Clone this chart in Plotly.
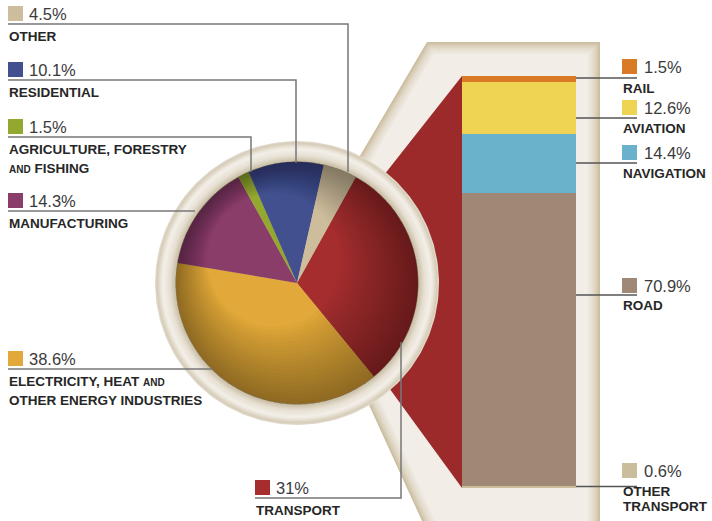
import numpy as np
import plotly.graph_objects as go

W, H = 712, 521
OFF = 0  # page body margin is removed by the post script below

# ---------------- data ----------------
sector_names = ["TRANSPORT", "ELECTRICITY, HEAT AND OTHER ENERGY INDUSTRIES", "MANUFACTURING",
                "AGRICULTURE, FORESTRY AND FISHING", "RESIDENTIAL", "OTHER"]
sector_values = [31.0, 38.6, 14.3, 1.5, 10.1, 4.5]
sector_colors = ["#a62d2e", "#e2a93a", "#8a3d69", "#93a82e", "#42508f", "#cdbd9c"]
SMALL = "<span style='font-size:10px'>AND</span>"
sector_label_lines = [["TRANSPORT"],
                      ["ELECTRICITY, HEAT " + SMALL, "OTHER ENERGY INDUSTRIES"],
                      ["MANUFACTURING"],
                      ["AGRICULTURE, FORESTRY", SMALL + " FISHING"],
                      ["RESIDENTIAL"],
                      ["OTHER"]]

transport_names = ["RAIL", "AVIATION", "NAVIGATION", "ROAD", "OTHER TRANSPORT"]
transport_values = [1.5, 12.6, 14.4, 70.9, 0.6]
transport_colors = ["#d97a26", "#efd453", "#6ab2cb", "#a08877", "#cbbc9b"]
transport_label_lines = [["RAIL"], ["AVIATION"], ["NAVIGATION"], ["ROAD"], ["OTHER", "TRANSPORT"]]

# ---------------- layout constants ----------------
PIE_CX, PIE_CY, PIE_R = 297, 283, 121
RING_R = 142
PIE_ROTATION = 29
BAR_X0, BAR_X1, BAR_TOP, BAR_BOTTOM = 462, 576, 76, 488
SQ = 15
FW, FH = W - OFF, H - OFF

sector_label_layout = [
    dict(sx=255, sy=480, ly=498, path=[(255, 498), (401, 498), (401, 342)]),
    dict(sx=8, sy=351, ly=369, path=[(8, 369), (212, 369)]),
    dict(sx=8, sy=193, ly=211, path=[(8, 211), (195, 211)]),
    dict(sx=8, sy=119, ly=137, path=[(8, 137), (251, 137), (251, 172)]),
    dict(sx=8, sy=62, ly=80, path=[(8, 80), (296, 80), (296, 163)]),
    dict(sx=8, sy=6, ly=24, path=[(8, 24), (348, 24), (348, 172)]),
]
transport_label_layout = [
    dict(sx=622, sy=59, ly=78),
    dict(sx=622, sy=100, ly=118),
    dict(sx=622, sy=145, ly=163),
    dict(sx=622, sy=278, ly=295),
    dict(sx=622, sy=463, ly=481),
]

PCT_FONT = dict(family="Liberation Sans, Arial, sans-serif", size=16.5, color="#3a3a3a")
NAME_FONT = dict(family="Liberation Sans, Arial, sans-serif", size=13.5, color="#262626")


def circle_xy(cx, cy, r, n=200, reverse=False):
    t = np.linspace(0, 2 * np.pi, n, endpoint=False)
    if reverse:
        t = t[::-1]
    return cx + r * np.cos(t), cy + r * np.sin(t)


def path_of(xs, ys, close=True):
    s = "M" + "L".join(f"{x:.2f},{y:.2f}" for x, y in zip(xs, ys))
    return s + ("Z" if close else "")


def inset_polygon(pts, d):
    pts = np.array(pts, float)
    n = len(pts)
    c = pts.mean(axis=0)
    lines = []
    for i in range(n):
        p, q = pts[i], pts[(i + 1) % n]
        e = q - p
        nrm = np.array([-e[1], e[0]]) / np.linalg.norm(e)
        if np.dot(c - p, nrm) < 0:
            nrm = -nrm
        lines.append((p + nrm * d, e))
    out = []
    for i in range(n):
        p1, e1 = lines[i - 1]
        p2, e2 = lines[i]
        A = np.array([e1, -e2]).T
        s, _ = np.linalg.solve(A, p2 - p1)
        out.append(p1 + s * e1)
    return np.array(out)


def mix(c1, c2, t):
    a = [int(c1[i:i + 2], 16) for i in (1, 3, 5)]
    b = [int(c2[i:i + 2], 16) for i in (1, 3, 5)]
    return "#" + "".join(f"{round(a[k] + (b[k] - a[k]) * t):02x}" for k in range(3))


fig = go.Figure()
shapes = []

# ---- beige bracket frame around the bar (below traces) ----
def line_x_at_y(p, q, y):
    return p[0] + (q[0] - p[0]) * (y - p[1]) / (q[1] - p[1])

frame_pts = [(301, 256), (427, 42), (600, 42), (600, 560),
             (line_x_at_y((301, 256), (422, 521), 560), 560)]
frame_steps = [0, 1.5, 3, 4.5, 6, 8, 10, 12]
for i, d in enumerate(frame_steps):
    poly = inset_polygon(frame_pts, d)
    col = mix("#cbbd9f", "#f2eee7", (i / (len(frame_steps) - 1)) ** 0.8)
    shapes.append(dict(type="path", path=path_of(poly[:, 0], poly[:, 1]), xref="x", yref="y",
                       fillcolor=col, line=dict(width=0), layer="below"))

# ---- red connector from transport slice to the bar ----
shapes.append(dict(type="path",
                   path=path_of([BAR_X0, BAR_X0, 306], [BAR_TOP, BAR_BOTTOM, 274]),
                   xref="x", yref="y", fillcolor="#9c2a2b", line=dict(width=0), layer="below"))

# ---- ring around the pie ----
rx, ry = circle_xy(PIE_CX, PIE_CY, RING_R, 240)
k0 = PIE_R / RING_R
fig.add_trace(go.Scatter(
    x=np.append(rx, rx[0]), y=np.append(ry, ry[0]), mode="lines", fill="toself",
    line=dict(width=0), hoverinfo="skip", showlegend=False,
    fillgradient=dict(type="radial", colorscale=[
        [0.0, "#c2b597"], [k0 - 0.01, "#c2b597"], [k0 + 0.01, "#cdc2aa"], [k0 + 0.045, "#e6dfd2"],
        [k0 + 0.09, "#f3efe8"], [0.955, "#ede8dd"], [0.985, "#d6ccb8"], [1.0, "#e4ded2"]])))

# ---- pie ----
fig.add_trace(go.Pie(
    values=sector_values, labels=sector_names, sort=False, direction="clockwise",
    rotation=PIE_ROTATION, textinfo="none", hoverinfo="label+percent", showlegend=False,
    marker=dict(colors=sector_colors, line=dict(width=0)),
    domain=dict(x=[(PIE_CX - PIE_R - OFF) / FW, (PIE_CX + PIE_R - OFF) / FW],
                y=[1 - (PIE_CY + PIE_R - OFF) / FH, 1 - (PIE_CY - PIE_R - OFF) / FH])))

# ---- soft shading over the pie (light from upper left) ----
n_shade = 20
ox, oy = circle_xy(PIE_CX, PIE_CY, PIE_R + 0.5, 240)
for k in range(n_shade):
    r_in = PIE_R * (0.55 + 0.435 * k / (n_shade - 1))
    off = 0.6 * (PIE_R - r_in) / np.sqrt(2)
    ix, iy = circle_xy(PIE_CX - off, PIE_CY - off, r_in, 240, reverse=True)
    shapes.append(dict(type="path", path=path_of(ox, oy) + path_of(ix, iy), xref="x", yref="y",
                       fillcolor="rgba(0,0,0,0.018)", line=dict(width=0), layer="above"))

# ---- stacked transport bar ----
total_t = sum(transport_values)
for name, val, col in list(zip(transport_names, transport_values, transport_colors))[::-1]:
    fig.add_trace(go.Bar(x=[(BAR_X0 + BAR_X1) / 2], y=[val], width=[BAR_X1 - BAR_X0],
                         marker=dict(color=col, line=dict(width=0)), name=name,
                         xaxis="x", yaxis="y2", showlegend=False, hoverinfo="name+y"))

# pixel extents of each transport segment (top to bottom)
scale = (BAR_BOTTOM - BAR_TOP) / total_t
seg_top, acc = [], 0.0
for v in transport_values:
    seg_top.append(BAR_TOP + acc * scale)
    acc += v
seg_bot = [t + v * scale for t, v in zip(seg_top, transport_values)]

annotations = []


def add_text(x, y, text, font):
    annotations.append(dict(x=x, y=y, xref="x", yref="y", text=text, showarrow=False,
                            xanchor="left", yanchor="middle", font=font, borderpad=0))


LINE_LEFT = dict(color="#777777", width=1.5)
LINE_RIGHT = dict(color="#555555", width=1.5)

# ---- sector labels ----
for val, col, lines, lay in zip(sector_values, sector_colors, sector_label_lines, sector_label_layout):
    sx, sy, ly = lay["sx"], lay["sy"], lay["ly"]
    shapes.append(dict(type="rect", x0=sx, x1=sx + SQ, y0=sy, y1=sy + SQ, xref="x", yref="y",
                       fillcolor=col, line=dict(width=0), layer="above"))
    pts = lay["path"]
    shapes.append(dict(type="path", path=path_of([p[0] for p in pts], [p[1] for p in pts], close=False),
                       xref="x", yref="y", line=LINE_LEFT, layer="above"))
    add_text(sx + SQ + 5, sy + SQ / 2 + 0.5, f"{val:g}%", PCT_FONT)
    for j, t in enumerate(lines):
        add_text(sx, ly + 12.5 + 19 * j, f"<b>{t}</b>", NAME_FONT)

# ---- transport labels ----
for i, (val, col, lines, lay) in enumerate(zip(transport_values, transport_colors,
                                               transport_label_lines, transport_label_layout)):
    sx, sy = lay["sx"], lay["sy"]
    ly = min(max(lay["ly"], seg_top[i] + 1), seg_bot[i] - 1)
    shapes.append(dict(type="rect", x0=sx, x1=sx + SQ, y0=sy, y1=sy + SQ, xref="x", yref="y",
                       fillcolor=col, line=dict(width=0), layer="above"))
    shapes.append(dict(type="path", path=f"M{BAR_X1},{ly:.2f}L{sx + SQ},{ly:.2f}",
                       xref="x", yref="y", line=LINE_RIGHT, layer="above"))
    add_text(sx + SQ + 6, sy + SQ / 2 + 0.5, f"{val:g}%", PCT_FONT)
    for j, t in enumerate(lines):
        add_text(sx, lay["ly"] + 10.5 + 15 * j, f"<b>{t}</b>", NAME_FONT)

fig.update_layout(
    width=FW, height=FH, margin=dict(l=0, r=0, t=0, b=0),
    paper_bgcolor="white", plot_bgcolor="rgba(0,0,0,0)",
    barmode="stack", showlegend=False,
    xaxis=dict(range=[OFF, W], visible=False, fixedrange=True),
    yaxis=dict(range=[H, OFF], visible=False, fixedrange=True),
    yaxis2=dict(domain=[1 - (BAR_BOTTOM - OFF) / FH, 1 - (BAR_TOP - OFF) / FH], range=[0, total_t],
                anchor="x", visible=False, fixedrange=True),
    shapes=shapes, annotations=annotations,
)

fig.write_html("out.html", config={"displayModeBar": False},
               post_script="document.body.style.margin='0px';")
